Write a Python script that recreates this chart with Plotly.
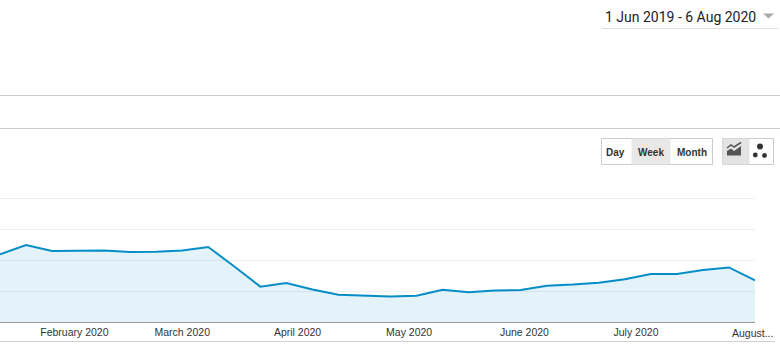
import plotly.graph_objects as go

# ---- data ----
weeks = ["2020-01-12", "2020-01-19", "2020-01-26", "2020-02-02", "2020-02-09",
         "2020-02-16", "2020-02-23", "2020-03-01", "2020-03-08", "2020-03-15",
         "2020-03-22", "2020-03-29", "2020-04-05", "2020-04-12", "2020-04-19",
         "2020-04-26", "2020-05-03", "2020-05-10", "2020-05-17", "2020-05-24",
         "2020-05-31", "2020-06-07", "2020-06-14", "2020-06-21", "2020-06-28",
         "2020-07-05", "2020-07-12", "2020-07-19", "2020-07-26", "2020-08-02"]
sessions = [218, 248, 229, 231, 231, 226, 227, 231, 242, 179,
            114, 126, 105, 88, 84, 82, 85, 104, 96, 102,
            103, 117, 121, 127, 138, 155, 155, 168, 176, 134]
month_ticks = ["2020-02-01", "2020-03-01", "2020-04-01", "2020-05-01",
               "2020-06-01", "2020-07-01"]
month_labels = ["February 2020", "March 2020", "April 2020", "May 2020",
                "June 2020", "July 2020"]
last_label = "August..."
date_range_text = "1 Jun 2019 - 6 Aug 2020"
buttons = ["Day", "Week", "Month"]

# ---- layout geometry (pixels) ----
W, H = 780, 363
L, R, T, B = 0, 25, 195, 41
PW, PH = W - L - R, H - T - B
Y_TOP = 400 * PH / (PH - 3)   # the 400 gridline sits 3px below the plot top


def X(px):
    return (px - L) / PW


def Y(py):
    return (H - B - py) / PH


fig = go.Figure()
fig.add_trace(go.Scatter(
    x=weeks, y=sessions, mode="lines",
    line=dict(color="#058dc7", width=2),
    fill="tozeroy", fillcolor="rgba(5,141,199,0.11)",
    hoverinfo="skip", showlegend=False,
))

shapes = []
annotations = []

# horizontal separators
for py, x0, x1, col in [(95.5, 0, 780, "#cccccc"), (128.5, 0, 780, "#cccccc"),
                        (341.5, 0, 775, "#d0d0d0"), (28.5, 602, 778, "#dddddd")]:
    shapes.append(dict(type="line", xref="paper", yref="paper",
                       x0=X(x0), x1=X(x1), y0=Y(py), y1=Y(py),
                       line=dict(color=col, width=1)))

# date-range dropdown triangle
shapes.append(dict(type="path", xref="paper", yref="paper",
                   path=f"M{X(763)},{Y(13.5)} L{X(774)},{Y(13.5)} L{X(768.5)},{Y(18.5)} Z",
                   fillcolor="#aaaaaa", line=dict(width=0)))
annotations.append(dict(text=date_range_text, xref="paper", yref="paper",
                        x=X(603), y=Y(17), xanchor="left", yanchor="middle",
                        showarrow=False,
                        font=dict(family="Roboto", size=14, color="#222222")))


def rect(x0, y0, x1, y1, fill, line="#cccccc"):
    shapes.append(dict(type="rect", xref="paper", yref="paper",
                       x0=X(x0), x1=X(x1), y0=Y(y1), y1=Y(y0),
                       fillcolor=fill, line=dict(color=line, width=1)))


# Day / Week / Month button group
rect(601.5, 138.5, 712.5, 164.5, "#ffffff")
rect(632, 139, 670, 164, "#e8e8e8", line="#e8e8e8")
for lab, cx in zip(buttons, [615.5, 651, 691.5]):
    annotations.append(dict(text=f"<b>{lab}</b>", xref="paper", yref="paper",
                            x=X(cx), y=Y(152), xanchor="center", yanchor="middle",
                            showarrow=False,
                            font=dict(family="Arial", size=10, color="#333333")))

# chart-type buttons
rect(722.5, 138.5, 773.5, 164.5, "#ffffff")
rect(723, 139, 749, 164, "#e3e3e3", line="#e3e3e3")
# area-chart glyph
shapes.append(dict(type="path", xref="paper", yref="paper",
                   path=(f"M{X(727)},{Y(155.5)} L{X(727)},{Y(151)} L{X(731)},{Y(148.5)} "
                         f"L{X(734)},{Y(151)} L{X(741)},{Y(146)} L{X(741)},{Y(155.5)} Z"),
                   fillcolor="#555555", line=dict(width=0)))
shapes.append(dict(type="path", xref="paper", yref="paper",
                   path=(f"M{X(727)},{Y(148)} L{X(731)},{Y(145)} L{X(734)},{Y(147)} "
                         f"L{X(741)},{Y(142.5)}"),
                   line=dict(color="#555555", width=1.5)))
# scatter glyph
for cx, cy, r in [(760, 146.5, 3), (755.3, 155, 2.4), (764.5, 155.5, 2.4)]:
    shapes.append(dict(type="circle", xref="paper", yref="paper",
                       x0=X(cx - r), x1=X(cx + r), y0=Y(cy + r), y1=Y(cy - r),
                       fillcolor="#333333", line=dict(width=0)))

annotations.append(dict(text=last_label, xref="paper", yref="paper",
                        x=X(730), y=Y(332.5), xanchor="left", yanchor="middle",
                        showarrow=False,
                        font=dict(family="Arial", size=10.5, color="#333333")))

fig.update_layout(
    width=W, height=H,
    margin=dict(l=L, r=R, t=T, b=B, pad=0),
    paper_bgcolor="#ffffff", plot_bgcolor="#ffffff",
    shapes=shapes, annotations=annotations,
    xaxis=dict(range=[weeks[0], weeks[-1]], type="date",
               tickvals=month_ticks, ticktext=month_labels,
               ticks="", showgrid=False, zeroline=False,
               showline=True, linecolor="#999999", linewidth=1,
               tickfont=dict(family="Arial", size=10.5, color="#333333"),
               fixedrange=True),
    yaxis=dict(range=[0, Y_TOP], tickvals=[100, 200, 300, 400],
               showticklabels=False,
               showgrid=True, gridcolor="#efefef", gridwidth=1,
               zeroline=False, fixedrange=True),
)

fig.write_html("out.html", config={"displayModeBar": False},
               post_script="document.body.style.margin='0';")
